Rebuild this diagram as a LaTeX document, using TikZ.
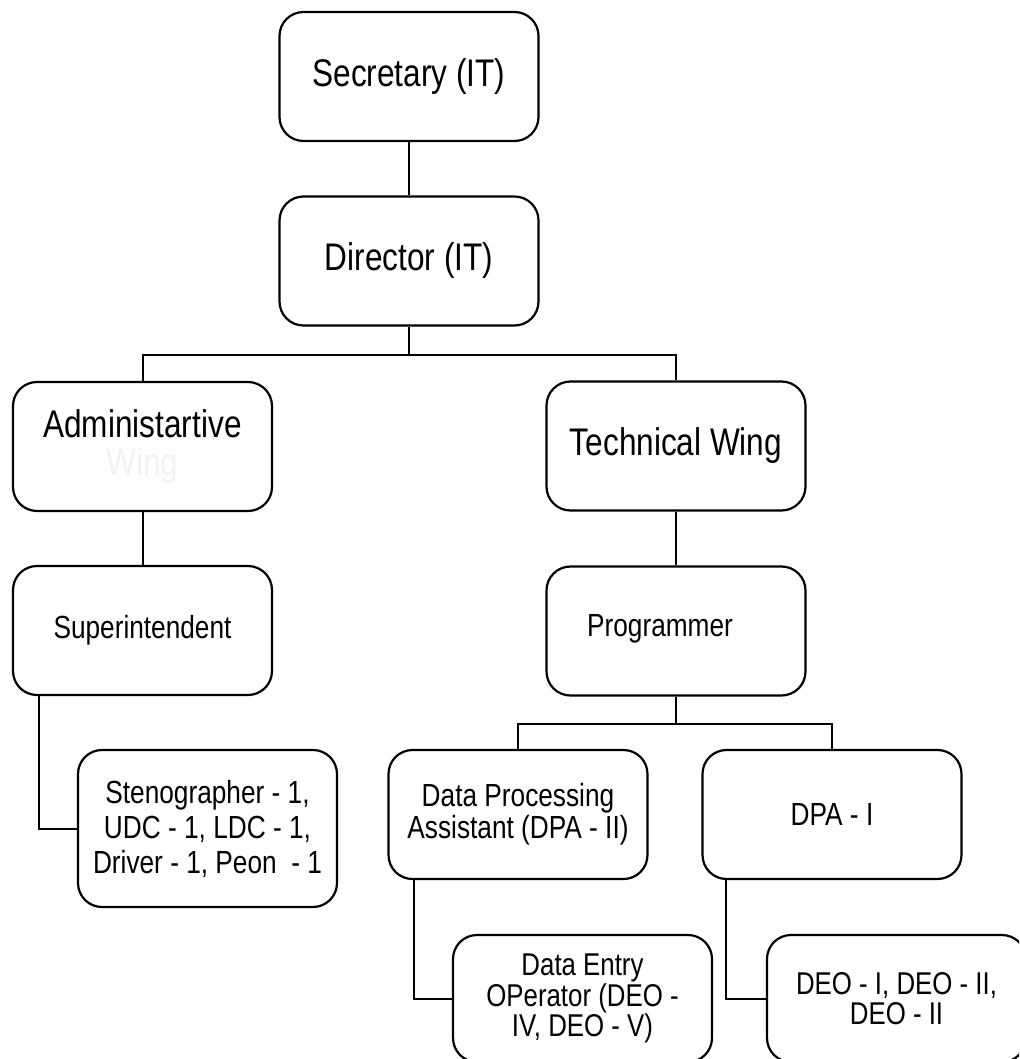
\documentclass[tikz,border=0pt]{standalone}
\usepackage{fontspec}
\setmainfont{Liberation Sans}[FakeStretch=0.82]
\definecolor{faint}{gray}{0.95}
\begin{document}
\begin{tikzpicture}[x=1pt,y=-1pt,
  box/.style={draw, rounded corners=24pt, line width=2.2pt, minimum width=259pt,
    minimum height=129pt, inner sep=0pt, align=center},
  big/.style={font=\fontsize{38.5}{38}\selectfont},
  mid/.style={font=\fontsize{32}{32}\selectfont, align=center},
  stenof/.style={font=\fontsize{32}{35}\selectfont},
  deof/.style={font=\fontsize{31.5}{30.5}\selectfont},
  conn/.style={line width=2pt}]
\useasboundingbox (0,0) rectangle (1019,1059);
\clip (0,0) rectangle (1019,1059);
\fill[white] (0,0) rectangle (1019,1059);

\node[box,big] (sec) at (409,76.5) {Secretary (IT)};
\node[box,big] (dir) at (409,261) {Director (IT)};
\node[box,big] (adm) at (142.5,446.5) {Administartive\\\textcolor{faint}{Wing}};
\node[box,big] (tech) at (676,446) {Technical Wing};
\node[box,mid] (sup) at (142.5,630.5) {Superintendent};
\node[box] (prog) at (676,631) {};
\node[mid] (progtxt) at (660,629) {Programmer};
\node[box,stenof,minimum height=157pt] (steno) at (207.5,828.5) {Stenographer - 1,\\UDC - 1, LDC - 1,\\Driver - 1, Peon~ - 1};
\node[box,mid] (dpa2) at (518,814.5) {Data Processing\\Assistant (DPA - II)};
\node[box,mid] (dpa1) at (832,814.5) {DPA - I};
\node[box,deof,minimum height=127pt] (deo1) at (582.5,998.5) {Data Entry\\OPerator (DEO -\\IV, DEO - V)};
\node[box,deof,minimum height=127pt] (deo2) at (896.5,998.5) {DEO - I, DEO - II,\\DEO - II};

\draw[conn] (sec.south) -- (dir.north);
\coordinate (j1) at ([yshift=-28pt]dir.south);
\draw[conn] (dir.south) -- (j1);
\draw[conn] (adm.north) |- (j1) -| (tech.north);
\draw[conn] (adm.south) -- (sup.north);
\draw[conn] (tech.south) -- (prog.north);
\draw[conn] ([xshift=27pt]sup.south west) |- (steno.west);
\coordinate (j2) at ([yshift=-27pt]prog.south);
\draw[conn] (prog.south) -- (j2);
\draw[conn] (dpa2.north) |- (j2) -| (dpa1.north);
\draw[conn] ([xshift=27pt]dpa2.south west) |- (deo1.west);
\draw[conn] ([xshift=25pt]dpa1.south west) |- (deo2.west);
\end{tikzpicture}
\end{document}
